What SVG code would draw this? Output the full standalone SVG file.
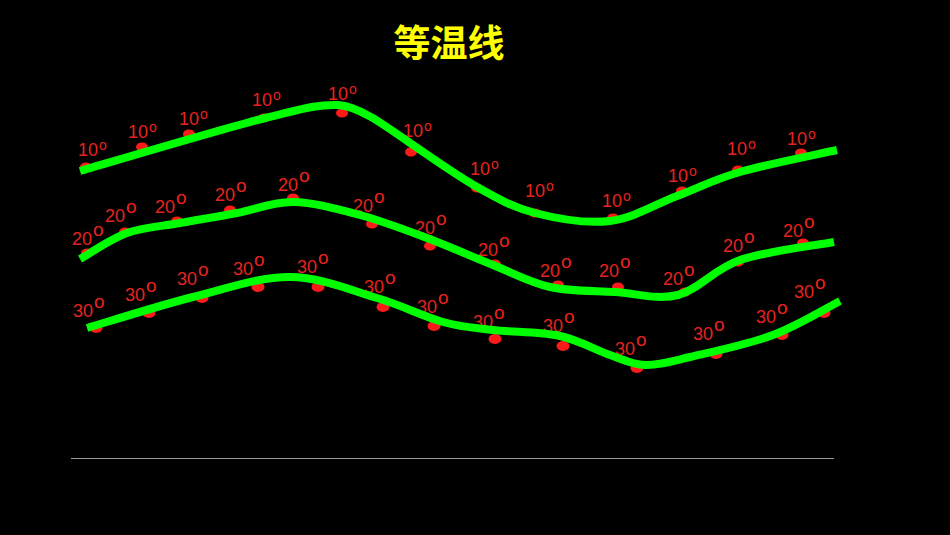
<svg xmlns="http://www.w3.org/2000/svg" width="950" height="535" viewBox="0 0 950 535">
<style>
.t{font-family:"Liberation Sans",Arial,sans-serif;font-size:18px;fill:#e8231f}
.g{font-size:14px}
.o{font-size:19px}
.d{fill:#ff1a1a}
.iso{fill:none;stroke:#00ff00;stroke-width:8;stroke-linecap:butt;stroke-linejoin:round}
.title{font-family:"Noto Sans CJK SC",sans-serif;font-size:37px;font-weight:bold;fill:#ffff00}
</style>
<rect width="950" height="535" fill="#000"/>
<text class="title" x="449" y="57" text-anchor="middle">等温线</text>
<line x1="71" y1="458.5" x2="834" y2="458.5" stroke="#9a9a9a" stroke-width="1"/>

<g id="points10">
<g id="p10-1"><ellipse class="d" cx="86" cy="167" rx="6" ry="4.5"/><text class="t" x="78" y="156">10<tspan class="g" dx="1" dy="-6">o</tspan></text></g>
<g id="p10-2"><ellipse class="d" cx="142" cy="147" rx="6" ry="4.5"/><text class="t" x="128" y="138">10<tspan class="g" dx="1" dy="-6">o</tspan></text></g>
<g id="p10-3"><ellipse class="d" cx="189" cy="134" rx="6" ry="4.5"/><text class="t" x="179" y="125">10<tspan class="g" dx="1" dy="-6">o</tspan></text></g>
<g id="p10-4"><ellipse class="d" cx="264" cy="118" rx="6" ry="4.5"/><text class="t" x="252" y="106">10<tspan class="g" dx="1" dy="-6">o</tspan></text></g>
<g id="p10-5"><ellipse class="d" cx="342" cy="113" rx="6" ry="4.5"/><text class="t" x="328" y="100">10<tspan class="g" dx="1" dy="-6">o</tspan></text></g>
<g id="p10-6"><ellipse class="d" cx="411" cy="152" rx="6" ry="4.5"/><text class="t" x="403" y="137">10<tspan class="g" dx="1" dy="-6">o</tspan></text></g>
<g id="p10-7"><ellipse class="d" cx="477" cy="188" rx="6" ry="4.5"/><text class="t" x="470" y="175">10<tspan class="g" dx="1" dy="-6">o</tspan></text></g>
<g id="p10-8"><ellipse class="d" cx="535" cy="213" rx="6" ry="4.5"/><text class="t" x="525" y="197">10<tspan class="g" dx="1" dy="-6">o</tspan></text></g>
<g id="p10-9"><ellipse class="d" cx="613" cy="218" rx="6" ry="4.5"/><text class="t" x="602" y="207">10<tspan class="g" dx="1" dy="-6">o</tspan></text></g>
<g id="p10-10"><ellipse class="d" cx="682" cy="191" rx="6" ry="4.5"/><text class="t" x="668" y="182">10<tspan class="g" dx="1" dy="-6">o</tspan></text></g>
<g id="p10-11"><ellipse class="d" cx="738" cy="170" rx="6" ry="4.5"/><text class="t" x="727" y="155">10<tspan class="g" dx="1" dy="-6">o</tspan></text></g>
<g id="p10-12"><ellipse class="d" cx="801" cy="153" rx="6" ry="4.5"/><text class="t" x="787" y="145">10<tspan class="g" dx="1" dy="-6">o</tspan></text></g>
</g>

<g id="points20">
<g id="p20-1"><ellipse class="d" cx="87" cy="253" rx="6" ry="4.5"/><text class="t" x="72" y="245">20<tspan class="o" dx="1" dy="-9">o</tspan></text></g>
<g id="p20-2"><ellipse class="d" cx="125" cy="232" rx="6" ry="4.5"/><text class="t" x="105" y="222">20<tspan class="o" dx="1" dy="-9">o</tspan></text></g>
<g id="p20-3"><ellipse class="d" cx="177" cy="221" rx="6" ry="4.5"/><text class="t" x="155" y="213">20<tspan class="o" dx="1" dy="-9">o</tspan></text></g>
<g id="p20-4"><ellipse class="d" cx="230" cy="210" rx="6" ry="4.5"/><text class="t" x="215" y="201">20<tspan class="o" dx="1" dy="-9">o</tspan></text></g>
<g id="p20-5"><ellipse class="d" cx="293" cy="198" rx="6" ry="4.5"/><text class="t" x="278" y="191">20<tspan class="o" dx="1" dy="-9">o</tspan></text></g>
<g id="p20-6"><ellipse class="d" cx="372" cy="224" rx="6" ry="4.5"/><text class="t" x="353" y="212">20<tspan class="o" dx="1" dy="-9">o</tspan></text></g>
<g id="p20-7"><ellipse class="d" cx="430" cy="246" rx="6" ry="4.5"/><text class="t" x="415" y="234">20<tspan class="o" dx="1" dy="-9">o</tspan></text></g>
<g id="p20-8"><ellipse class="d" cx="495" cy="264" rx="6" ry="4.5"/><text class="t" x="478" y="256">20<tspan class="o" dx="1" dy="-9">o</tspan></text></g>
<g id="p20-9"><ellipse class="d" cx="558" cy="285" rx="6" ry="4.5"/><text class="t" x="540" y="277">20<tspan class="o" dx="1" dy="-9">o</tspan></text></g>
<g id="p20-10"><ellipse class="d" cx="618" cy="287" rx="6" ry="4.5"/><text class="t" x="599" y="277">20<tspan class="o" dx="1" dy="-9">o</tspan></text></g>
<g id="p20-11"><ellipse class="d" cx="685" cy="292" rx="6" ry="4.5"/><text class="t" x="663" y="285">20<tspan class="o" dx="1" dy="-9">o</tspan></text></g>
<g id="p20-12"><ellipse class="d" cx="738" cy="262" rx="6" ry="4.5"/><text class="t" x="723" y="252">20<tspan class="o" dx="1" dy="-9">o</tspan></text></g>
<g id="p20-13"><ellipse class="d" cx="803" cy="243" rx="6" ry="4.5"/><text class="t" x="783" y="237">20<tspan class="o" dx="1" dy="-9">o</tspan></text></g>
</g>

<g id="points30">
<g id="p30-1"><ellipse class="d" cx="96" cy="328" rx="6.5" ry="5"/><text class="t" x="73" y="317">30<tspan class="o" dx="1" dy="-9">o</tspan></text></g>
<g id="p30-2"><ellipse class="d" cx="149" cy="313" rx="6.5" ry="5"/><text class="t" x="125" y="301">30<tspan class="o" dx="1" dy="-9">o</tspan></text></g>
<g id="p30-3"><ellipse class="d" cx="202" cy="298" rx="6.5" ry="5"/><text class="t" x="177" y="285">30<tspan class="o" dx="1" dy="-9">o</tspan></text></g>
<g id="p30-4"><ellipse class="d" cx="258" cy="287" rx="6.5" ry="5"/><text class="t" x="233" y="275">30<tspan class="o" dx="1" dy="-9">o</tspan></text></g>
<g id="p30-5"><ellipse class="d" cx="318" cy="287" rx="6.5" ry="5"/><text class="t" x="297" y="273">30<tspan class="o" dx="1" dy="-9">o</tspan></text></g>
<g id="p30-6"><ellipse class="d" cx="383" cy="307" rx="6.5" ry="5"/><text class="t" x="364" y="293">30<tspan class="o" dx="1" dy="-9">o</tspan></text></g>
<g id="p30-7"><ellipse class="d" cx="434" cy="326" rx="6.5" ry="5"/><text class="t" x="417" y="313">30<tspan class="o" dx="1" dy="-9">o</tspan></text></g>
<g id="p30-8"><ellipse class="d" cx="495" cy="339" rx="6.5" ry="5"/><text class="t" x="473" y="328">30<tspan class="o" dx="1" dy="-9">o</tspan></text></g>
<g id="p30-9"><ellipse class="d" cx="563" cy="346" rx="6.5" ry="5"/><text class="t" x="543" y="332">30<tspan class="o" dx="1" dy="-9">o</tspan></text></g>
<g id="p30-10"><ellipse class="d" cx="637" cy="368" rx="6.5" ry="5"/><text class="t" x="615" y="355">30<tspan class="o" dx="1" dy="-9">o</tspan></text></g>
<g id="p30-11"><ellipse class="d" cx="716" cy="354" rx="6.5" ry="5"/><text class="t" x="693" y="340">30<tspan class="o" dx="1" dy="-9">o</tspan></text></g>
<g id="p30-12"><ellipse class="d" cx="782" cy="335" rx="6.5" ry="5"/><text class="t" x="756" y="323">30<tspan class="o" dx="1" dy="-9">o</tspan></text></g>
<g id="p30-13"><ellipse class="d" cx="824" cy="313" rx="6.5" ry="5"/><text class="t" x="794" y="298">30<tspan class="o" dx="1" dy="-9">o</tspan></text></g>
</g>

<g id="isotherms">
<path id="iso10" class="iso" d="M80,171 C111,162 222.5,128.8 265,118 C295,111 315,104 338,105 C358,106 383,124 410,143 C433.7,159 456.2,175.3 477,187 C497.8,198.7 512.8,207.3 535,213 C557.2,218.7 586.3,223.8 610,221 C633.7,218.2 655.3,204.2 677,196 C698.7,187.8 713.3,179.7 740,172 C766.7,164.3 820.8,153.7 837,150"/>
<path id="iso20" class="iso" d="M80,259 C87.8,254.7 110.3,239 127,233 C143.7,227 161.7,226.3 180,223 C198.3,219.7 218.2,216.5 237,213 C255.8,209.5 272.5,201.7 293,202 C313.5,202.3 337.7,209 360,215 C382.3,221 404.8,229.7 427,238 C449.2,246.3 472.5,256.8 493,265 C513.5,273.2 529.7,282.5 550,287 C570.3,291.5 593.7,290.7 615,292 C636.3,293.3 657.2,300.3 678,295 C698.8,289.7 714,268.8 740,260 C766,251.2 818.3,245 834,242"/>
<path id="iso30" class="iso" d="M87,328 C104.7,322.8 159.2,305.5 193,297 C226.8,288.5 259.3,276.8 290,277 C320.7,277.2 351.5,290.5 377,298 C402.5,305.5 423.7,316.7 443,322 C462.3,327.3 473.5,327.7 493,330 C512.5,332.3 540.5,331.8 560,336 C579.5,340.2 595.8,350.2 610,355 C624.2,359.8 631.7,364.7 645,365 C658.3,365.3 668.7,362 690,357 C711.3,352 748,344.3 773,335 C798,325.7 828.8,306.7 840,301"/>
</g>
</svg>
